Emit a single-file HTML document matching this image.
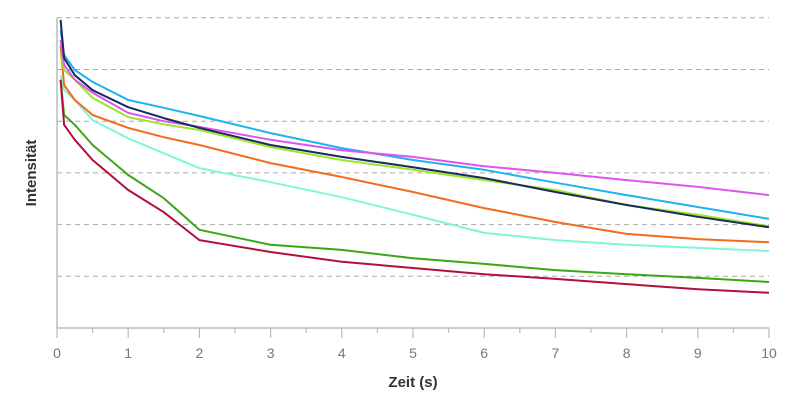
<!DOCTYPE html>
<html><head><meta charset="utf-8"><style>
html,body{margin:0;padding:0;background:#fff;}
svg{display:block;font-family:"Liberation Sans",sans-serif;}
</style></head><body>
<svg id="chart" width="804" height="403" viewBox="0 0 804 403">
<g id="grid"></g>
<g id="axes"></g>
<g id="series"></g>
<text x="413" y="387" text-anchor="middle" font-size="15" font-weight="bold" fill="#333">Zeit (s)</text>
<text transform="translate(36,173) rotate(-90)" text-anchor="middle" font-size="15" font-weight="bold" fill="#333">Intensität</text>
</svg>
<script>
const times = [0.05,0.1,0.25,0.5,1,1.5,2,3,4,5,6,7,8,9,10];
const navy    = [596,522,489,460,427,406,387,354,331,311,290,263,238,215,195];
const sky     = [576,528,499,476,441,426,410,377,348,325,306,281,257,234,211];
const magenta = [557,509,480,455,416,400,389,364,344,331,313,300,286,273,257];
const lime    = [528,499,480,445,408,394,383,350,325,306,286,267,238,219,197];
const orange  = [547,470,441,412,387,369,354,319,292,263,232,205,182,172,166];
const aqua    = [489,460,441,402,367,338,309,282,253,219,184,170,161,155,149];
const green   = [480,412,393,354,296,251,190,161,151,135,124,112,104,97,89];
const crimson = [480,393,364,325,267,224,170,147,128,116,104,95,85,75,68];
const xTicks = [0,1,2,3,4,5,6,7,8,9,10];
const gridVals = [100,200,300,400,500,600];

const NS="http://www.w3.org/2000/svg";
const X0=57,X1=769,Y0=328,YPER=0.517;
function sx(t){return X0+(X1-X0)*t/10;}
function sy(v){return Y0-v*YPER;}
function mk(tag,attrs,parent){const e=document.createElementNS(NS,tag);for(const k in attrs)e.setAttribute(k,attrs[k]);parent.appendChild(e);return e;}

const grid=document.getElementById('grid');
gridVals.forEach(v=>{
  const l=mk('line',{x1:X0,x2:X1,y1:sy(v),y2:sy(v),stroke:'#aaa','stroke-width':1,'stroke-dasharray':'5,4'},grid);
  
  
});
const axes=document.getElementById('axes');
const ya=mk('line',{x1:X0,x2:X0,y1:sy(600),y2:Y0,stroke:'#bbb','stroke-width':1.5},axes);


const xa=mk('line',{x1:X0,x2:X1,y1:Y0,y2:Y0,stroke:'#bbb','stroke-width':1.5},axes);


for(let t=0;t<=10;t+=0.5){
  const major=Number.isInteger(t);
  const tk=mk('line',{x1:sx(t),x2:sx(t),y1:Y0,y2:Y0+(major?10:5),stroke:'#bbb','stroke-width':1.2},axes);
  
  
}
xTicks.forEach(t=>{
  const tx=mk('text',{x:sx(t),y:358,'text-anchor':'middle','font-size':14,fill:'#777'},axes);
  tx.textContent=String(t);
  
  
});

const series=[
  ['series-aqua',aqua,'#7ff5dc'],
  ['series-orange',orange,'#f26c1c'],
  ['series-lime',lime,'#99e62a'],
  ['series-sky',sky,'#1eb2ee'],
  ['series-magenta',magenta,'#dd55ee'],
  ['series-navy',navy,'#1a2a5a'],
  ['series-green',green,'#3aa815'],
  ['series-crimson',crimson,'#b0103a']
];
const sg=document.getElementById('series');
series.forEach(([name,vals,col])=>{
  let d='M'+sx(times[0]).toFixed(1)+','+sy(vals[0]).toFixed(1);
  for(let i=1;i<times.length;i++)d+=' L'+sx(times[i]).toFixed(1)+','+sy(vals[i]).toFixed(1);
  const p=mk('path',{d:d,fill:'none',stroke:col,'stroke-width':2,'stroke-linejoin':'round'},sg);
  
  
});
</script>
</body></html>
